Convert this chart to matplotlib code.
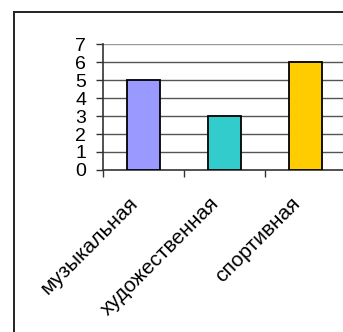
import matplotlib
matplotlib.use("Agg")
import matplotlib.pyplot as plt
from matplotlib.lines import Line2D

categories = ["музыкальная", "художественная", "спортивная"]
values = [5, 3, 6]
colors = ["#9999FF", "#33CCCC", "#FFCC00"]
yticks = [0, 1, 2, 3, 4, 5, 6, 7]

W, H = 343, 332
fig = plt.figure(figsize=(W / 100, H / 100), dpi=100)
fig.patch.set_facecolor("white")

# outer chart frame (left and top edges visible)
fig.add_artist(Line2D([14.5 / W, 14.5 / W], [0, 1 - 11.5 / H], transform=fig.transFigure,
                      color="#222222", lw=1.4))
fig.add_artist(Line2D([14.5 / W, 1], [1 - 11.5 / H, 1 - 11.5 / H], transform=fig.transFigure,
                      color="#222222", lw=1.4))

left, right = 103, 346
top, bottom = 44, 170
ax = fig.add_axes([left / W, 1 - bottom / H, (right - left) / W, (bottom - top) / H])
ax.set_xlim(0, 3)
ax.set_ylim(0, 7)

for y in yticks[1:-1]:
    ax.axhline(y, color="#555555", lw=1.0, zorder=1)
ax.axhline(7, color="#999999", lw=1.0, zorder=1)

x = [i + 0.5 for i in range(len(categories))]
ax.bar(x, values, width=0.4, color=colors, edgecolor="black", linewidth=1.3, zorder=3)

for s in ["top", "right"]:
    ax.spines[s].set_visible(False)
for s in ["left", "bottom"]:
    ax.spines[s].set_color("#333333")
    ax.spines[s].set_linewidth(1.2)

font = "Liberation Sans"
ax.set_yticks(yticks)
ax.set_yticklabels([str(v) for v in yticks], fontsize=14, family=font)
ax.tick_params(axis="y", length=5, width=1.0, color="#333333", pad=7)

ax.set_xticks([0, 1, 2, 3])
ax.set_xticklabels([])
ax.tick_params(axis="x", length=5, width=1.0, color="#333333")

for xi, lab in zip(x, categories):
    ax.annotate(lab, xy=(xi, 0), xycoords="data", xytext=(-11, -17), textcoords="offset points",
                rotation=45, ha="right", va="top", rotation_mode="anchor",
                fontsize=15, family=font, annotation_clip=False)

fig.savefig("out.png", dpi=100)
